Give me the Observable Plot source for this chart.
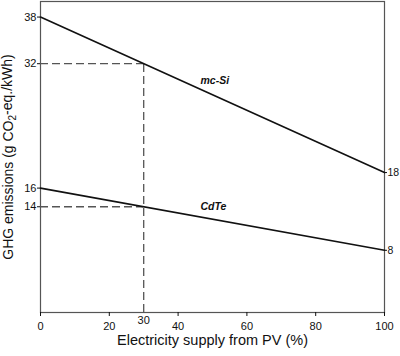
<!DOCTYPE html>
<html>
<head>
<meta charset="utf-8">
<script src="https://cdn.jsdelivr.net/npm/d3@7"></script>
<script src="https://cdn.jsdelivr.net/npm/@observablehq/plot@0.6"></script>
<style>
  html, body { margin: 0; padding: 0; background: #fff; }
  svg { font-family: "Liberation Sans", Arial, sans-serif; }
</style>
</head>
<body>
<div id="chart"></div>
<script>
// Data
const pvShare = [0, 100];
const mcSi = [38, 18];
const cdte = [16, 8];
const xTicks = [0, 20, 40, 60, 80, 100];
// left ticks sit where the lines meet; the CdTe marker is labelled "14"
const leftTicks = [38, 32, 16, 13.6];
const leftTickLabels = ["38", "32", "16", "14"];
const rightTicks = [18, 8];
const markerX = 30;
const markerMcSi = 32;
const markerCdTe = 13.6;
const seriesLabels = [
  {name: "mc-Si", x: 46.5, y: 29.8},
  {name: "CdTe", x: 46.5, y: 13.6}
];

const mcSiData = pvShare.map((x, i) => ({x, y: mcSi[i]}));
const cdteData = pvShare.map((x, i) => ({x, y: cdte[i]}));
const leftLabelOf = new Map(leftTicks.map((t, i) => [t, leftTickLabels[i]]));

const plot = Plot.plot({
  width: 400,
  height: 356,
  marginLeft: 40,
  marginRight: 16,
  marginTop: 1,
  marginBottom: 44,
  style: {fontFamily: "Liberation Sans, Arial, sans-serif", fontSize: "11px", color: "#111", background: "#fff"},
  x: {domain: [0, 100]},
  y: {domain: [0, 40]},
  marks: [
    Plot.frame({stroke: "#555", strokeWidth: 1.2}),
    Plot.axisX({ticks: xTicks, tickSize: 4, tickPadding: 6, fontSize: 11, label: "Electricity supply from PV (%)", labelAnchor: "center", labelArrow: "none", labelOffset: 32}),
    Plot.axisY({ticks: leftTicks, tickFormat: d => leftLabelOf.get(d), tickSize: 3, tickPadding: 1, fontSize: 11, label: "GHG emissions (g CO2-eq./kWh)", labelAnchor: "center", labelArrow: "none", labelOffset: 37}),
    Plot.axisY({anchor: "right", ticks: rightTicks, tickSize: 2, tickPadding: 1, fontSize: 10.5, label: null}),
    Plot.ruleX([markerX], {y1: 0, y2: markerMcSi, stroke: "#555", strokeWidth: 1.3, strokeDasharray: "8,4"}),
    Plot.ruleY([markerMcSi], {x1: 0, x2: markerX, stroke: "#555", strokeWidth: 1.3, strokeDasharray: "8,4"}),
    Plot.ruleY([markerCdTe], {x1: 0, x2: markerX, stroke: "#555", strokeWidth: 1.3, strokeDasharray: "8,4"}),
    Plot.line(mcSiData, {x: "x", y: "y", stroke: "#111", strokeWidth: 1.6}),
    Plot.line(cdteData, {x: "x", y: "y", stroke: "#111", strokeWidth: 1.6}),
    Plot.text([markerX], {x: d => d, y: 0, dy: 8, text: d => String(d), fontSize: 11, fill: "#111"}),
    Plot.text(seriesLabels, {x: "x", y: "y", text: "name", textAnchor: "start", fontSize: 10.5, fontWeight: "bold", fontStyle: "italic", fill: "#111"})
  ]
});
document.getElementById("chart").appendChild(plot);

// Subscript the "2" in CO2 and size axis titles
d3.select(plot).selectAll("text").each(function() {
  const t = d3.select(this);
  const s = t.text();
  if (s === "GHG emissions (g CO2-eq./kWh)") {
    t.text(null).attr("font-size", 14);
    t.append("tspan").text("GHG emissions (g CO");
    t.append("tspan").attr("font-size", 10).attr("dy", "0.3em").text("2");
    t.append("tspan").attr("dy", "-0.3em").text("-eq./kWh)");
  } else if (s === "Electricity supply from PV (%)") {
    t.attr("font-size", 14.5);
  }
});
</script>
</body>
</html>
